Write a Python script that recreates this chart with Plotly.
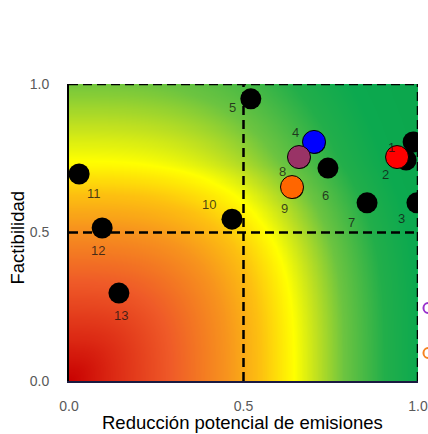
import numpy as np
import plotly.graph_objects as go

# ---- data ----
labels = ["1", "2", "3", "4", "5", "6", "7", "8", "9", "10", "11", "12", "13"]
reduccion = [0.986, 0.966, 0.997, 0.705, 0.521, 0.742, 0.854, 0.662, 0.642, 0.467, 0.029, 0.095, 0.143]
factibilidad = [0.805, 0.744, 0.600, 0.800, 0.950, 0.717, 0.600, 0.750, 0.648, 0.545, 0.697, 0.515, 0.296]

hl_names = ["2", "4", "8", "9"]
hl_x = [0.940, 0.702, 0.659, 0.639]
hl_y = [0.754, 0.805, 0.754, 0.653]
hl_colors = ["#ff0000", "#0000ff", "#993366", "#ff6600"]

legend_x = [1.03, 1.03]
legend_y = [0.246, 0.094]
legend_colors = ["#9933cc", "#f58220"]

tick_vals = [0.0, 0.5, 1.0]
tick_text = ["0.0", "0.5", "1.0"]

x_title = "Reducción potencial de emisiones"
y_title = "Factibilidad"

# label offsets (px) – style only
label_shift = [(-22, -6), (-21, -14), (-15, -16), (-20, 11), (-18, -9), (-2, -27),
               (-16, -20), (-18, -13), (-9, -20), (-23, 15), (15, -20), (-4, -22), (2, -22)]

fig = go.Figure()

# background gradient (decorative)
gx = np.linspace(0, 1, 141)
gy = np.linspace(0, 1, 141)
GX, GY = np.meshgrid(gx, gy)
GYc = np.where(GY < 0.74, GY, 0.74 + (GY - 0.74) * 0.6)
Z = ((GX / 0.645) ** 3 + (GYc / 0.74) ** 3) ** (1 / 3)
vmax = 1.85
stops = [(0.0, "#c80000"), (0.2, "#dc2a14"), (0.45, "#ef5a28"), (0.7, "#f7941d"),
         (0.85, "#fdc010"), (1.0, "#ffff00"), (1.1, "#bfe020"), (1.22, "#6cc440"),
         (1.4, "#22ae4a"), (1.55, "#0ca94f"), (1.85, "#0ca54b")]
cs = [[v / vmax, c] for v, c in stops]
fig.add_trace(go.Heatmap(x=gx, y=gy, z=Z, zmin=0, zmax=vmax, colorscale=cs,
                         showscale=False, zsmooth="best", hoverinfo="skip"))

fig.add_trace(go.Scatter(x=reduccion, y=factibilidad, mode="markers",
                         marker=dict(size=21, color="black"), showlegend=False))

for n, x, y, c in zip(hl_names, hl_x, hl_y, hl_colors):
    fig.add_trace(go.Scatter(x=[x], y=[y], mode="markers", name=n,
                             marker=dict(size=23, color=c, line=dict(color="black", width=1)),
                             showlegend=False))

# partially visible legend symbols at the right edge (x range [0,1] on domain [0,1])
for lx, ly, lc in zip(legend_x, legend_y, legend_colors):
    fig.add_shape(type="circle", xref="paper", yref="paper", xsizemode="pixel",
                  ysizemode="pixel", xanchor=lx, yanchor=ly, x0=-5, x1=5, y0=-5, y1=5,
                  line=dict(color=lc, width=2), fillcolor="rgba(0,0,0,0)")

for lab, x, y, (dx, dy) in zip(labels, reduccion, factibilidad, label_shift):
    fig.add_annotation(x=x, y=y, text=lab, showarrow=False, xshift=dx, yshift=dy,
                       font=dict(size=13, color="rgba(20,20,20,0.78)",
                                 family="Liberation Sans, Arial"))

dash = dict(color="black", width=2.5, dash="9px,5px")
fig.add_shape(type="line", x0=0, x1=1, y0=1, y1=1, line=dash, layer="above")
fig.add_shape(type="line", x0=1, x1=1, y0=0, y1=1, line=dash, layer="above")
fig.add_shape(type="line", x0=0.5, x1=0.5, y0=0, y1=1, line=dash, layer="above")
fig.add_shape(type="line", x0=0, x1=1, y0=0.5, y1=0.5, line=dash, layer="above")

# axis titles
fig.add_annotation(text=x_title, xref="paper", yref="paper", x=0.497, y=0,
                   xanchor="center", yanchor="top", yshift=-29, showarrow=False,
                   font=dict(size=18.5, color="black", family="Liberation Sans, Arial"))
fig.add_annotation(text=y_title, xref="paper", yref="paper", x=0, y=0.5,
                   xanchor="center", yanchor="middle", xshift=-52, yshift=-5,
                   textangle=-90, showarrow=False,
                   font=dict(size=18.5, color="black", family="Liberation Sans, Arial"))

fig.update_layout(
    width=428, height=434,
    margin=dict(l=69, r=10, t=84, b=53),
    paper_bgcolor="white", plot_bgcolor="white",
    font=dict(family="Liberation Sans, Arial", color="#595959", size=14),
    xaxis=dict(range=[0, 1], tickvals=tick_vals, ticktext=tick_text, showgrid=False,
               zeroline=False, showline=True, linecolor="#1a1a40", linewidth=2,
               ticks="", ticklabelstandoff=11, automargin=False),
    yaxis=dict(range=[0, 1], tickvals=tick_vals, ticktext=tick_text, showgrid=False,
               zeroline=False, showline=True, linecolor="black", linewidth=2,
               ticks="", ticklabelstandoff=15, automargin=False),
)

# remove the default 8px page margin so the 428x434 figure fills the window exactly
fig.write_html("out.html",
               config={"displayModeBar": False},
               post_script="document.body.style.margin='0';"
                           "document.documentElement.style.overflow='hidden';"
                           "document.body.style.overflow='hidden';")
